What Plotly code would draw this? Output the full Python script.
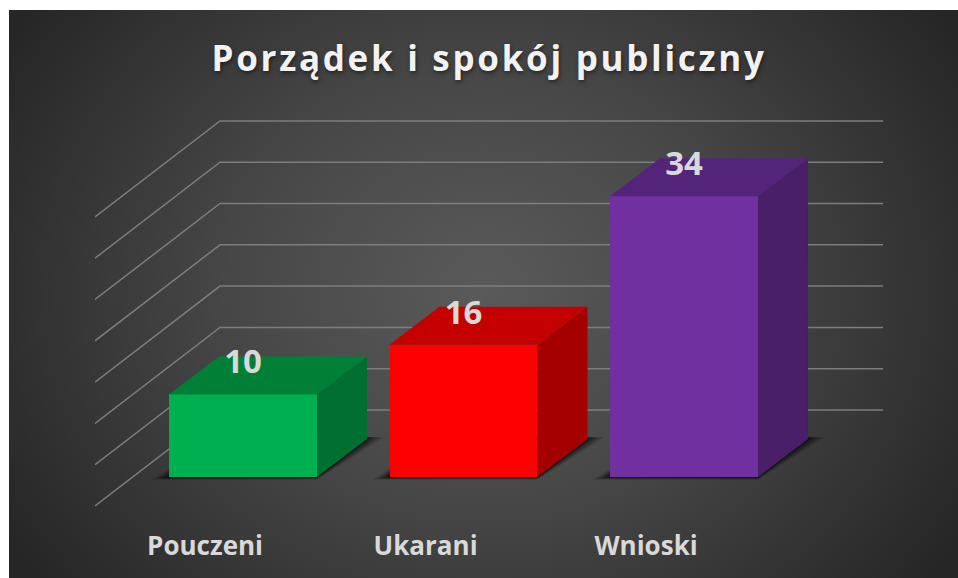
import base64
import plotly.graph_objects as go

# --- data ---
title_text = "Porządek i spokój publiczny"
categories = ["Pouczeni", "Ukarani", "Wnioski"]
values = [10, 16, 34]
grid_values = [0, 5, 10, 15, 20, 25, 30, 35]
front_colors = ["#00B050", "#FF0000", "#7030A0"]
top_colors = ["#008037", "#C40000", "#54247A"]
side_colors = ["#006F2F", "#A50000", "#481F68"]

# --- geometry (axis units) ---
W, H = 958, 578
ML, MR, MT, MB = 95, 75, 100, 53
X_RANGE = [-0.6712, 2.9025]
Y_RANGE = [-5.81, 45.64]
BAR_W = 0.671
DX, DY = 0.2268, 4.6        # bar depth
WALL_X, WALL_Y = -0.1043, 8.11   # back wall corner relative to front baseline
SIDE_DX, SIDE_DY = -0.5669, -11.62  # left wall run
LABEL_SHIFT = -0.172
LABEL_DROP = 0.75
xs = list(range(len(categories)))

bg_svg = f'''<svg xmlns="http://www.w3.org/2000/svg" width="{W}" height="{H}" viewBox="0 0 {W} {H}">
<defs><radialGradient id="g" gradientUnits="userSpaceOnUse" cx="484" cy="289" r="560"
 gradientTransform="translate(484 289) scale(1 0.85) translate(-484 -289)">
<stop offset="0" stop-color="#5a5a5a"/><stop offset="0.45" stop-color="#474747"/>
<stop offset="1" stop-color="#262626"/></radialGradient></defs>
<rect width="{W}" height="{H}" fill="#fff"/>
<rect x="9" y="10" width="{W-9}" height="{H-10}" fill="url(#g)"/></svg>'''
bg_uri = "data:image/svg+xml;base64," + base64.b64encode(bg_svg.encode()).decode()

fig = go.Figure()


def poly(px, py, color, axes=("x", "y")):
    fig.add_trace(go.Scatter(x=px, y=py, mode="lines", fill="toself", fillcolor=color,
                             line=dict(width=0), hoverinfo="skip", showlegend=False,
                             xaxis=axes[0], yaxis=axes[1]))


# wall gridlines
for g in grid_values:
    fig.add_trace(go.Scatter(
        x=[WALL_X + SIDE_DX, WALL_X, X_RANGE[1]],
        y=[g + WALL_Y + SIDE_DY, g + WALL_Y, g + WALL_Y],
        mode="lines", line=dict(color="#7d7d7d", width=1.5),
        hoverinfo="skip", showlegend=False))

# floor shadows, layered to look soft
for grow, alpha in [(0.08, 0.10), (0.065, 0.14), (0.05, 0.18), (0.035, 0.22), (0.02, 0.28)]:
    for x in xs:
        l, r = x - BAR_W / 2, x + BAR_W / 2
        poly([l - grow, r, r + DX + grow, l + DX, l - grow],
             [-grow * 4, -grow * 4, DY + 0.2, DY + 0.2, -grow * 4],
             f"rgba(0,0,0,{alpha})")

# bars: front faces
fig.add_trace(go.Bar(x=xs, y=values, width=BAR_W, marker=dict(color=front_colors, line=dict(width=0)),
                     hoverinfo="skip", showlegend=False, xaxis="x2", yaxis="y2"))

# bars: side and top faces
for x, v, tc, sc in zip(xs, values, top_colors, side_colors):
    l, r = x - BAR_W / 2, x + BAR_W / 2
    poly([r, r + DX, r + DX, r, r], [0, DY, v + DY, v, 0], sc, ("x2", "y2"))
    poly([l, r, r + DX, l + DX, l], [v, v, v + DY, v + DY, v], tc, ("x2", "y2"))

# data labels
fig.add_trace(go.Scatter(
    x=xs, y=[v + DY / 2 - LABEL_DROP for v in values],
    text=[str(v) for v in values], mode="text", textposition="top center",
    textfont=dict(family="Open Sans", size=33, color="#D9D9D9", weight=700),
    hoverinfo="skip", showlegend=False, xaxis="x2", yaxis="y2"))

axis_common = dict(range=X_RANGE, showgrid=False, zeroline=False, showline=False, fixedrange=True)
fig.update_layout(
    width=W, height=H, autosize=False,
    margin=dict(l=ML, r=MR, t=MT, b=MB, pad=0),
    paper_bgcolor="white", plot_bgcolor="rgba(0,0,0,0)",
    showlegend=False, bargap=0,
    title=dict(text=title_text, x=0.5105, xanchor="center", y=1 - 59 / H, yanchor="middle",
               font=dict(family="Open Sans", size=35, color="#F2F2F2", weight=700,
                         shadow="1px 2px 4px rgba(0,0,0,0.5)")),
    xaxis=dict(axis_common, tickmode="array",
               tickvals=[x + LABEL_SHIFT for x in xs], ticktext=categories,
               ticks="", ticklabelstandoff=3,
               tickfont=dict(family="Open Sans", size=26, color="#D9D9D9", weight=700)),
    yaxis=dict(range=Y_RANGE, visible=False, fixedrange=True),
    xaxis2=dict(axis_common, overlaying="x", visible=False),
    yaxis2=dict(range=Y_RANGE, overlaying="y", visible=False, fixedrange=True),
    images=[dict(source=bg_uri, xref="paper", yref="paper",
                 x=-ML / (W - ML - MR), y=1 + MT / (H - MT - MB),
                 sizex=W / (W - ML - MR), sizey=H / (H - MT - MB),
                 xanchor="left", yanchor="top", sizing="stretch", layer="below")],
)

post = """
document.body.style.margin = '0';
document.querySelectorAll('.gtitle').forEach(function (t) { t.style.letterSpacing = '2.7px'; });
"""
fig.write_html("out.html", post_script=post, config={"displayModeBar": False})
